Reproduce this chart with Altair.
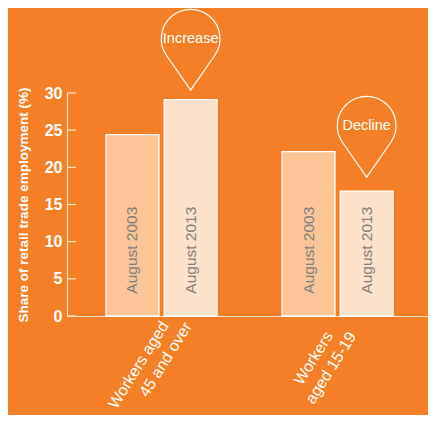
import altair as alt
import pandas as pd

groups = ["Workers aged 45 and over", "Workers aged 15-19"]
periods = ["August 2003", "August 2013"]
values = [24.4, 29.1, 22.1, 16.8]
label_line1 = ["Workers aged", "Workers"]
label_line2 = ["45 and over", "aged 15-19"]
balloon_text = ["Increase", "Decline"]
balloon_center = [37.3, 25.6]
y_ticks = [0, 5, 10, 15, 20, 25, 30]

BG = "#F47F26"
FONT = "Liberation Sans"
AXIS_COL = "#FCE6D2"

bars = pd.DataFrame({
    "group": [g for g in groups for _ in periods],
    "period": periods * len(groups),
    "value": values,
})
balloons = pd.DataFrame({
    "group": groups,
    "period": [periods[1], periods[1]],
    "text": balloon_text,
    "center": balloon_center,
})
ticks = pd.DataFrame({"t": y_ticks})

xaxis = alt.Axis(labels=False, ticks=False, title=None,
                 domainColor=AXIS_COL, domainWidth=1.2)
xscale = alt.Scale(paddingInner=0.369, paddingOuter=0.21, align=0.528)
xs = alt.X("group:N", sort=groups, scale=xscale, axis=xaxis)
xo = alt.XOffset("period:N", sort=periods,
                 scale=alt.Scale(paddingInner=0.09, paddingOuter=0))
yscale = alt.Scale(domain=[0, 30], nice=False)
yaxis = alt.Axis(values=y_ticks, ticks=False, grid=False,
                 labelOverlap=False, labelBound=False, labelFlush=False,
                 title="Share of retail trade employment (%)",
                 titleFont=FONT, titleFontSize=13.5, titleFontWeight="bold",
                 titleColor="white", titlePadding=14,
                 labelFont=FONT, labelFontSize=16, labelFontWeight="bold",
                 labelColor="white", labelPadding=5,
                 domainColor=AXIS_COL, domainWidth=1.2)


def Y(field):
    return alt.Y(field, scale=yscale, axis=yaxis)


bar_layer = alt.Chart(bars).mark_bar(stroke="white", strokeWidth=1.3).encode(
    x=xs, xOffset=xo, y=Y("value:Q"),
    color=alt.Color("period:N", sort=periods,
                    scale=alt.Scale(domain=periods, range=["#FBC597", "#FDE1C8"]),
                    legend=None),
)

bar_text = alt.Chart(bars).mark_text(
    angle=270, align="left", baseline="middle", font=FONT, fontSize=15.5,
    color="#7D7D7D",
).encode(x=xs, xOffset=xo, y=Y("base:Q"), text="period:N"
         ).transform_calculate(base="3.0")

tick_layer = alt.Chart(ticks).mark_rule(color=AXIS_COL, strokeWidth=1.2).encode(
    y=Y("t:Q"), x=alt.value(0), x2=alt.value(9))


def cat_line(i, text, dx, dy):
    df = pd.DataFrame({"group": [groups[i]], "label": [text], "base": [0]})
    return alt.Chart(df).mark_text(
        angle=302, align="right", baseline="middle", font=FONT, fontSize=16,
        color="white", dx=dx, dy=dy,
    ).encode(x=xs, y=Y("base:Q"), text="label:N")


cat_layers = [
    cat_line(0, label_line1[0], -4, 6.5),
    cat_line(0, label_line2[0], 7.5, 26.5),
    cat_line(1, label_line1[1], -19, 2),
    cat_line(1, label_line2[1], -7, 22),
]

balloon_path = "M 0 1.75 L -0.82 0.571 A 1 1 0 1 1 0.82 0.571 Z"
balloon_shape = alt.Chart(balloons).mark_point(
    shape=balloon_path, size=3450, filled=False, stroke="white", strokeWidth=1.2,
    opacity=1,
).encode(x=xs, xOffset=xo, y=Y("center:Q"))

balloon_label = alt.Chart(balloons).mark_text(
    font=FONT, fontSize=14.5, color="white", baseline="middle", align="center",
).encode(x=xs, xOffset=xo, y=Y("center:Q"), text="text:N")

chart = alt.layer(
    bar_layer, bar_text, tick_layer, *cat_layers, balloon_shape, balloon_label
).properties(
    width=361, height=223,
    autosize=alt.AutoSizeParams(type="none"),
    padding={"left": 59, "top": 85, "right": 0, "bottom": 99},
    background=BG,
).configure_view(stroke=None)

chart.save("out.html", embed_options={"renderer": "svg", "actions": False})
